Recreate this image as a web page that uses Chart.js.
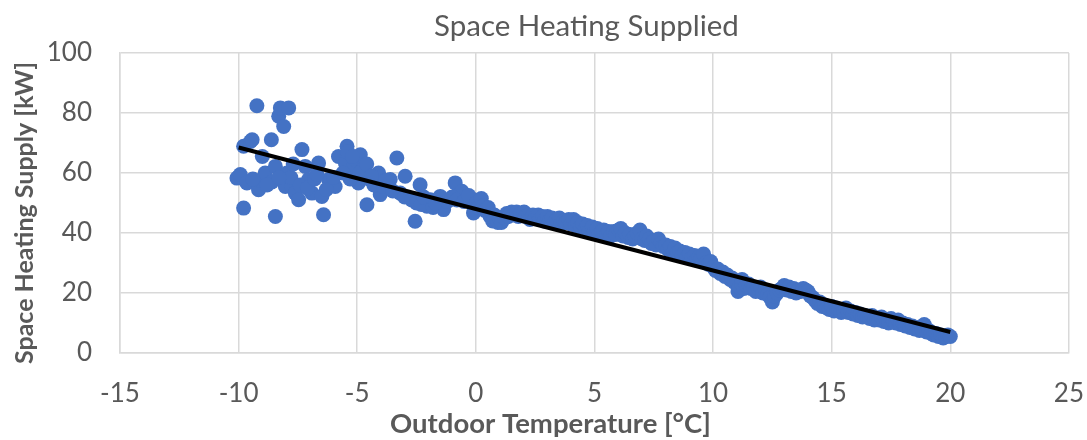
<!DOCTYPE html>
<html lang="en">
<head>
<meta charset="UTF-8">
<title>Space Heating Supplied</title>
<script src="https://cdn.jsdelivr.net/npm/chart.js"></script>
<style>
  html, body { margin: 0; padding: 0; background: #ffffff; }
  #wrap { width: 1087px; height: 440px; }
</style>
</head>
<body>
<div id="wrap"><canvas id="heatChart" width="1087" height="440"></canvas></div>
<script>
// cold hours (scattered cloud below 0 °C)
const coldTemp = [
  -10.07, -9.93, -9.79, -9.79, -9.65, -9.5, -9.43, -9.23, -9.16, -9.0,
  -9.1, -8.88, -8.62, -8.45, -8.45, -8.6, -8.31, -8.24, -7.89, -8.1,
  -8.03, -7.96, -7.75, -7.61, -7.47, -7.33, -7.19, -7.05, -6.91, -6.63,
  -6.49, -6.42, -6.21, -5.93, -5.79, -5.43, -5.5, -5.16, -5.08, -4.95,
  -4.87, -4.59, -4.1, -4.03, -3.61, -3.33, -3.19, -2.98, -2.56, -2.35,
  -2.06, -1.92, -1.5, -1.36, -0.87, -0.59, -0.1, -0.1,
  -7.8, -7.4, -7.1, -6.8, -6.7, -6.3, -6.0, -5.6, -5.3, -4.8,
  -4.5, -4.3, -3.9, -3.8, -3.5, -3.0, -2.7, -2.5, -2.3, -2.2,
  -1.8, -1.7, -1.2, -1.0, -0.8, -0.5, -0.3, -9.4, -8.8, -8.3,
  -7.7, -5.4, -5.2, -4.9, -4.6, -4.4
];
const coldHeat = [
  58.3, 59.5, 48.3, 68.9, 56.7, 70.5, 71.1, 82.4, 54.4, 65.5,
  57.5, 60, 71.1, 62.2, 45.5, 57, 78.9, 81.7, 81.7, 75.5,
  55.5, 60, 55.5, 53.3, 51.1, 67.8, 62.2, 57.8, 53.3, 63.3,
  52.2, 46.1, 57.8, 55.5, 65.5, 68.9, 63.3, 62.2, 64.4, 56.7,
  66.1, 49.4, 60, 52.8, 57.8, 65, 53.3, 58.9, 43.9, 56.1,
  48.9, 51.1, 52.2, 47.8, 56.7, 53.9, 51.1, 46.7,
  58.5, 56, 55, 58, 59.5, 54.5, 58.5, 60, 58, 61,
  58, 56, 55.5, 57.5, 54, 52, 51, 50, 49.5, 52,
  48.5, 50, 50.5, 52, 51, 50.5, 52.5, 58, 56, 58.5,
  63, 67, 65.5, 60, 63, 59
];

// mild hours (tight band from 0 to 20 °C)
const bandTemp = [
  0.02, 0.10, 0.23, 0.31, 0.38, 0.52, 0.60, 0.71, 0.78, 0.93,
  1.02, 1.08, 1.22, 1.30, 1.37, 1.51, 1.60, 1.72, 1.79, 1.90,
  2.03, 2.10, 2.22, 2.28, 2.41, 2.50, 2.63, 2.70, 2.81, 2.88,
  3.02, 3.10, 3.21, 3.32, 3.40, 3.52, 3.58, 3.71, 3.80, 3.92,
  4.01, 4.12, 4.20, 4.29, 4.41, 4.50, 4.62, 4.70, 4.78, 4.91,
  5.00, 5.12, 5.20, 5.31, 5.39, 5.52, 5.60, 5.68, 5.81, 5.90,
  6.02, 6.11, 6.20, 6.30, 6.42, 6.50, 6.61, 6.70, 6.80, 6.92,
  7.00, 7.12, 7.20, 7.31, 7.40, 7.52, 7.60, 7.70, 7.81, 7.90,
  8.01, 8.10, 8.20, 8.32, 8.40, 8.51, 8.60, 8.70, 8.82, 8.90,
  9.00, 9.10, 9.22, 9.30, 9.41, 9.50, 9.60, 9.70, 9.82, 9.90,
  10.02, 10.10, 10.20, 10.30, 10.41, 10.50, 10.60, 10.72, 10.80, 10.90,
  11.00, 11.05, 11.10, 11.20, 11.22, 11.30, 11.40, 11.50, 11.60, 11.70,
  11.80, 11.90, 12.00, 12.10, 12.20, 12.30, 12.40, 12.50, 12.60, 12.70,
  12.80, 12.90, 13.00, 13.10, 13.20, 13.30, 13.40, 13.50, 13.60, 13.70,
  13.80, 13.90, 14.00, 14.10, 14.20, 14.30, 14.40, 14.50, 14.60, 14.70,
  14.80, 14.90, 15.00, 15.10, 15.20, 15.30, 15.40, 15.50, 15.60, 15.70,
  15.80, 15.90, 16.00, 16.10, 16.20, 16.30, 16.40, 16.50, 16.60, 16.70,
  16.80, 16.90, 17.00, 17.10, 17.20, 17.30, 17.40, 17.50, 17.60, 17.70,
  17.80, 17.90, 18.00, 18.10, 18.20, 18.30, 18.40, 18.50, 18.60, 18.70,
  18.80, 18.90, 19.00, 19.10, 19.20, 19.30, 19.40, 19.50, 19.60, 19.70,
  19.80, 19.90, 20.00
];
const bandHeat = [
  50, 48.5, 51.5, 49, 47.5, 48.5, 45.5, 44, 46, 43.5,
  44.5, 43.5, 45, 46.5, 45.5, 47, 46, 47, 45.5, 46.5,
  47, 45.5, 46, 44.5, 46, 45, 46, 44.5, 45.5, 44,
  45.5, 44, 45, 43.5, 44.5, 45, 43, 44, 43.5, 44.5,
  43, 44.5, 42.5, 43.5, 42, 43, 41.5, 42.5, 40.5, 42,
  40.5, 41.5, 39.5, 40.5, 41, 39.5, 40.5, 39, 40.5, 39.5,
  41, 41.5, 39, 40, 38.5, 39.5, 38, 39, 40, 41,
  38, 37.5, 39, 38, 36.5, 37.5, 36, 38, 36.5, 35.5,
  36, 34.5, 35.5, 34, 35, 33.5, 34, 32.5, 33.5, 32,
  33, 31.5, 32.5, 31, 32, 31.5, 33, 30, 29.5, 30.5,
  28.5, 27.5, 28, 26.5, 27, 25.5, 26, 24.5, 25, 23.5,
  24, 20.5, 22, 23, 24.5, 21.5, 22.5, 23, 21.5, 22,
  20.5, 21.5, 22, 20, 21, 19.5, 18.5, 17, 19, 20,
  21, 21.5, 22.5, 21, 22, 20.5, 21.5, 20, 21, 20.5,
  21.5, 21, 20.5, 19, 18.5, 17.5, 16.5, 17, 15.5, 16,
  15, 14.5, 15.5, 14, 15, 14.5, 13.5, 14, 15, 13.5,
  14, 13, 13.5, 12.5, 13, 12, 12.5, 12, 11.5, 12.5,
  11, 11.5, 11, 12, 10.5, 11, 10, 11.5, 10.5, 10,
  11, 9.5, 10, 9, 9.5, 8.5, 9, 8, 8.5, 7.5,
  8, 9.5, 7, 7.5, 6.5, 6, 6.5, 5.5, 6, 5,
  5.5, 6, 5.5
];

// linear trendline end points
const trendTemp = [-10, 20];
const trendHeat = [68.5, 7.0];

const chartTitle = 'Space Heating Supplied';
const xTitle = 'Outdoor Temperature [°C]';
const yTitle = 'Space Heating Supply [kW]';

const textGrey = '#595959';
const gridGrey = '#d9d9d9';

function toPoints(xs, ys) {
    return xs.map((x, i) => ({ x: x, y: ys[i] }));
}

// titles placed like the Excel original (not centred on the canvas)
const chartTexts = {
    id: 'chartTexts',
    afterDraw(chart) {
        const { ctx, chartArea } = chart;
        const midX = (chartArea.left + chartArea.right) / 2;
        const midY = (chartArea.top + chartArea.bottom) / 2;
        ctx.save();
        ctx.fillStyle = textGrey;
        ctx.textAlign = 'center';
        ctx.textBaseline = 'middle';
        ctx.font = '29.5px Lato';
        ctx.fillText(chartTitle, midX - 8, 26);
        ctx.font = 'bold 27.5px Lato';
        ctx.fillText(xTitle, midX - 44, 424);
        ctx.font = 'bold 25px Lato';
        ctx.translate(25, midY + 10);
        ctx.rotate(-Math.PI / 2);
        ctx.fillText(yTitle, 0, 0);
        ctx.restore();
    }
};

// invisible tick marks push the labels away without widening the side padding
const hiddenTicks = { color: gridGrey, lineWidth: 1.5, drawTicks: true, tickColor: 'rgba(0,0,0,0)' };

const ctx = document.getElementById('heatChart').getContext('2d');
new Chart(ctx, {
    type: 'scatter',
    data: {
        datasets: [
            {
                label: 'Linear trend',
                data: toPoints(trendTemp, trendHeat),
                showLine: true,
                borderColor: '#000000',
                borderWidth: 4,
                pointRadius: 0,
                order: 0
            },
            {
                label: 'Space heating supply',
                data: toPoints(coldTemp, coldHeat).concat(toPoints(bandTemp, bandHeat)),
                backgroundColor: '#4472C4',
                borderWidth: 0,
                pointRadius: 7.5,
                order: 1
            }
        ]
    },
    options: {
        responsive: false,
        animation: false,
        layout: { padding: { top: 53, right: 0, bottom: 0, left: 0 } },
        plugins: {
            legend: { display: false },
            tooltip: { enabled: false },
            title: { display: false }
        },
        scales: {
            x: {
                type: 'linear',
                min: -15,
                max: 25,
                ticks: { stepSize: 5, color: textGrey, font: { family: 'Lato', size: 26 }, padding: 3 },
                grid: Object.assign({ tickLength: 22 }, hiddenTicks),
                border: { color: gridGrey, width: 1.5 },
                afterFit(scale) { scale.height = 87; }
            },
            y: {
                min: 0,
                max: 100,
                ticks: { stepSize: 20, color: textGrey, font: { family: 'Lato', size: 26 }, padding: 3 },
                grid: Object.assign({ tickLength: 25 }, hiddenTicks),
                border: { color: gridGrey, width: 1.5 },
                afterFit(scale) { scale.width = 120; }
            }
        }
    },
    plugins: [chartTexts]
});
</script>
</body>
</html>
